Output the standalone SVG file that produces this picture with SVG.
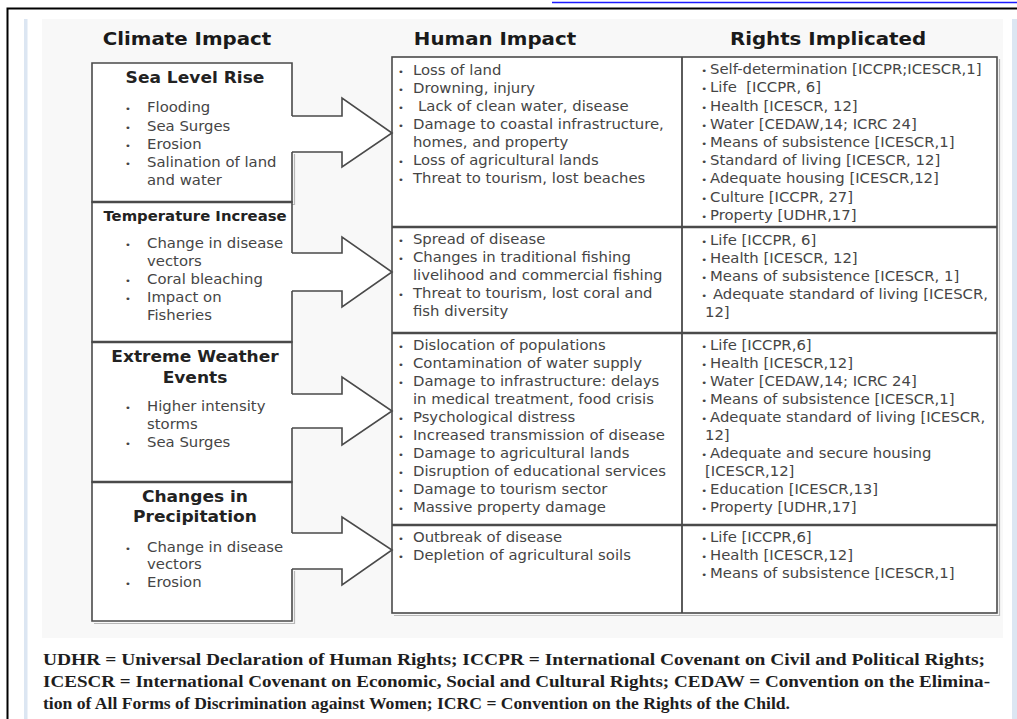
<svg xmlns="http://www.w3.org/2000/svg" width="1017" height="719" viewBox="0 0 1017 719">
<style>
.hdr{font-family:"DejaVu Sans",Verdana,sans-serif;font-weight:bold;font-size:18px;fill:#1a1a1a;text-anchor:middle}
.ttl{font-family:"DejaVu Sans",Verdana,sans-serif;font-weight:bold;font-size:15.5px;fill:#222;text-anchor:middle}
.ttl2{font-size:13.5px}
.tx{font-family:"DejaVu Sans",Verdana,sans-serif;font-size:13.5px;fill:#454545}
.b{font-size:9px}
.fn{font-family:"Liberation Serif","Times New Roman",serif;font-weight:bold;font-size:17px;fill:#1e1e1e}
.box{fill:#fff;stroke:#4a4a4a;stroke-width:1.6}
.div{stroke:#4a4a4a;stroke-width:2.6;fill:none}
.arrow{fill:#fff;stroke:#4a4a4a;stroke-width:1.6;stroke-linejoin:miter}
.tbl{fill:#fff;stroke:#4a4a4a;stroke-width:1.6}
.shadow{fill:none;stroke:#b8b8b8;stroke-width:1.2}
</style>
<rect width="1017" height="719" fill="#fff"/>
<!-- page frame -->
<line x1="552" y1="2.5" x2="1017" y2="2.5" stroke="#1a1aff" stroke-width="1.5"/>
<path d="M7.5,719 V8.5 H1017" fill="none" stroke="#000" stroke-width="2"/>
<rect x="24" y="19" width="3.5" height="700" fill="#dce6f2"/>
<rect x="1012" y="19" width="5" height="700" fill="#dce6f2"/>
<rect x="42" y="19" width="961" height="619" fill="#f8f8f8"/>

<!-- column headers -->
<g id="headers">
<text class="hdr" transform="translate(187,45) scale(1.1,1)">Climate Impact</text>
<text class="hdr" transform="translate(495,45) scale(1.1,1)">Human Impact</text>
<text class="hdr" transform="translate(828,45) scale(1.1,1)">Rights Implicated</text>
</g>

<!-- climate impact nodes -->
<g id="climate-sea-level">
<path class="shadow" d="M94,204.5 H294.5 V154"/>
<path class="box" d="M292,116 V63 H92 V202 H292 V152"/>
<g transform="translate(128,0) scale(1.1,1)">
<text class="ttl" x="60.9" y="83">Sea Level Rise</text>
<text class="tx" y="112"><tspan class="b" x="-2.7">•</tspan><tspan x="17.3">Flooding</tspan></text>
<text class="tx" y="131"><tspan class="b" x="-2.7">•</tspan><tspan x="17.3">Sea Surges</tspan></text>
<text class="tx" y="149"><tspan class="b" x="-2.7">•</tspan><tspan x="17.3">Erosion</tspan></text>
<text class="tx" y="167"><tspan class="b" x="-2.7">•</tspan><tspan x="17.3">Salination of land</tspan></text>
<text class="tx" x="17.3" y="185">and water</text>
</g>
</g>

<g id="climate-temperature">
<path class="box" d="M292,253 V202 H92 V342 H292 V291"/>
<line class="div" x1="92" y1="202" x2="292" y2="202"/>
<g transform="translate(128,0) scale(1.1,1)">
<text class="ttl ttl2" x="60.9" y="221">Temperature Increase</text>
<text class="tx" y="248"><tspan class="b" x="-2.7">•</tspan><tspan x="17.3">Change in disease</tspan></text>
<text class="tx" x="17.3" y="266">vectors</text>
<text class="tx" y="284"><tspan class="b" x="-2.7">•</tspan><tspan x="17.3">Coral bleaching</tspan></text>
<text class="tx" y="302"><tspan class="b" x="-2.7">•</tspan><tspan x="17.3">Impact on</tspan></text>
<text class="tx" x="17.3" y="320">Fisheries</text>
</g>
</g>

<g id="climate-extreme">
<path class="box" d="M292,394 V342 H92 V482 H292 V428"/>
<line class="div" x1="92" y1="342" x2="292" y2="342"/>
<g transform="translate(128,0) scale(1.1,1)">
<text class="ttl" x="60.9" y="362">Extreme Weather</text>
<text class="ttl" x="60.9" y="383">Events</text>
<text class="tx" y="411"><tspan class="b" x="-2.7">•</tspan><tspan x="17.3">Higher intensity</tspan></text>
<text class="tx" x="17.3" y="429">storms</text>
<text class="tx" y="447"><tspan class="b" x="-2.7">•</tspan><tspan x="17.3">Sea Surges</tspan></text>
</g>
</g>

<g id="climate-precipitation">
<path class="shadow" d="M94,623.5 H294.5 V571"/>
<path class="box" d="M292,533 V482 H92 V621 H292 V569"/>
<line class="div" x1="92" y1="482" x2="292" y2="482"/>
<g transform="translate(128,0) scale(1.1,1)">
<text class="ttl" x="60.9" y="502">Changes in</text>
<text class="ttl" x="60.9" y="522">Precipitation</text>
<text class="tx" y="552"><tspan class="b" x="-2.7">•</tspan><tspan x="17.3">Change in disease</tspan></text>
<text class="tx" x="17.3" y="569">vectors</text>
<text class="tx" y="587"><tspan class="b" x="-2.7">•</tspan><tspan x="17.3">Erosion</tspan></text>
</g>
</g>

<!-- table frame -->
<g id="table">
<path class="shadow" d="M394,615.5 H999.5 V59"/>
<rect class="tbl" x="392" y="57" width="605" height="556"/>
<line class="div" x1="682" y1="57" x2="682" y2="613" style="stroke-width:1.8"/>
<line class="div" x1="392" y1="227" x2="997" y2="227"/>
<line class="div" x1="392" y1="333" x2="997" y2="333"/>
<line class="div" x1="392" y1="525" x2="997" y2="525"/>
</g>

<!-- human impact nodes -->
<g id="human-sea-level" transform="translate(398,0) scale(1.1,1)">
<text class="tx" y="75"><tspan class="b" x="0">•</tspan><tspan x="13.6">Loss of land</tspan></text>
<text class="tx" y="93"><tspan class="b" x="0">•</tspan><tspan x="13.6">Drowning, injury</tspan></text>
<text class="tx" y="111"><tspan class="b" x="0">•</tspan><tspan x="18.2">Lack of clean water, disease</tspan></text>
<text class="tx" y="129"><tspan class="b" x="0">•</tspan><tspan x="13.6">Damage to coastal infrastructure,</tspan></text>
<text class="tx" x="13.6" y="147">homes, and property</text>
<text class="tx" y="165"><tspan class="b" x="0">•</tspan><tspan x="13.6">Loss of agricultural lands</tspan></text>
<text class="tx" y="183"><tspan class="b" x="0">•</tspan><tspan x="13.6">Threat to tourism, lost beaches</tspan></text>
</g>
<g id="human-temperature" transform="translate(398,0) scale(1.1,1)">
<text class="tx" y="244"><tspan class="b" x="0">•</tspan><tspan x="13.6">Spread of disease</tspan></text>
<text class="tx" y="262"><tspan class="b" x="0">•</tspan><tspan x="13.6">Changes in traditional fishing</tspan></text>
<text class="tx" x="13.6" y="280">livelihood and commercial fishing</text>
<text class="tx" y="298"><tspan class="b" x="0">•</tspan><tspan x="13.6">Threat to tourism, lost coral and</tspan></text>
<text class="tx" x="13.6" y="316">fish diversity</text>
</g>
<g id="human-extreme" transform="translate(398,0) scale(1.1,1)">
<text class="tx" y="350"><tspan class="b" x="0">•</tspan><tspan x="13.6">Dislocation of populations</tspan></text>
<text class="tx" y="368"><tspan class="b" x="0">•</tspan><tspan x="13.6">Contamination of water supply</tspan></text>
<text class="tx" y="386"><tspan class="b" x="0">•</tspan><tspan x="13.6">Damage to infrastructure: delays</tspan></text>
<text class="tx" x="13.6" y="404">in medical treatment, food crisis</text>
<text class="tx" y="422"><tspan class="b" x="0">•</tspan><tspan x="13.6">Psychological distress</tspan></text>
<text class="tx" y="440"><tspan class="b" x="0">•</tspan><tspan x="13.6">Increased transmission of disease</tspan></text>
<text class="tx" y="458"><tspan class="b" x="0">•</tspan><tspan x="13.6">Damage to agricultural lands</tspan></text>
<text class="tx" y="476"><tspan class="b" x="0">•</tspan><tspan x="13.6">Disruption of educational services</tspan></text>
<text class="tx" y="494"><tspan class="b" x="0">•</tspan><tspan x="13.6">Damage to tourism sector</tspan></text>
<text class="tx" y="512"><tspan class="b" x="0">•</tspan><tspan x="13.6">Massive property damage</tspan></text>
</g>
<g id="human-precipitation" transform="translate(398,0) scale(1.1,1)">
<text class="tx" y="542"><tspan class="b" x="0">•</tspan><tspan x="13.6">Outbreak of disease</tspan></text>
<text class="tx" y="560"><tspan class="b" x="0">•</tspan><tspan x="13.6">Depletion of agricultural soils</tspan></text>
</g>

<!-- rights implicated nodes -->
<g id="rights-sea-level" transform="translate(703,0) scale(1.1,1)">
<text class="tx" y="74"><tspan class="b" x="-1.5">•</tspan><tspan x="6.4">Self-determination [ICCPR;ICESCR,1]</tspan></text>
<text class="tx" y="92"><tspan class="b" x="-1.5">•</tspan><tspan x="6.4">Life&#160; [ICCPR, 6]</tspan></text>
<text class="tx" y="111"><tspan class="b" x="-1.5">•</tspan><tspan x="6.4">Health [ICESCR, 12]</tspan></text>
<text class="tx" y="129"><tspan class="b" x="-1.5">•</tspan><tspan x="6.4">Water [CEDAW,14; ICRC 24]</tspan></text>
<text class="tx" y="147"><tspan class="b" x="-1.5">•</tspan><tspan x="6.4">Means of subsistence [ICESCR,1]</tspan></text>
<text class="tx" y="165"><tspan class="b" x="-1.5">•</tspan><tspan x="6.4">Standard of living [ICESCR, 12]</tspan></text>
<text class="tx" y="183"><tspan class="b" x="-1.5">•</tspan><tspan x="6.4">Adequate housing [ICESCR,12]</tspan></text>
<text class="tx" y="202"><tspan class="b" x="-1.5">•</tspan><tspan x="6.4">Culture [ICCPR, 27]</tspan></text>
<text class="tx" y="220"><tspan class="b" x="-1.5">•</tspan><tspan x="6.4">Property [UDHR,17]</tspan></text>
</g>
<g id="rights-temperature" transform="translate(703,0) scale(1.1,1)">
<text class="tx" y="245"><tspan class="b" x="-1.5">•</tspan><tspan x="6.4">Life [ICCPR, 6]</tspan></text>
<text class="tx" y="263"><tspan class="b" x="-1.5">•</tspan><tspan x="6.4">Health [ICESCR, 12]</tspan></text>
<text class="tx" y="281"><tspan class="b" x="-1.5">•</tspan><tspan x="6.4">Means of subsistence [ICESCR, 1]</tspan></text>
<text class="tx" y="299"><tspan class="b" x="-1.5">•</tspan><tspan x="9">Adequate standard of living [ICESCR,</tspan></text>
<text class="tx" x="1.8" y="317">12]</text>
</g>
<g id="rights-extreme" transform="translate(703,0) scale(1.1,1)">
<text class="tx" y="350"><tspan class="b" x="-1.5">•</tspan><tspan x="6.4">Life [ICCPR,6]</tspan></text>
<text class="tx" y="368"><tspan class="b" x="-1.5">•</tspan><tspan x="6.4">Health [ICESCR,12]</tspan></text>
<text class="tx" y="386"><tspan class="b" x="-1.5">•</tspan><tspan x="6.4">Water [CEDAW,14; ICRC 24]</tspan></text>
<text class="tx" y="404"><tspan class="b" x="-1.5">•</tspan><tspan x="6.4">Means of subsistence [ICESCR,1]</tspan></text>
<text class="tx" y="422"><tspan class="b" x="-1.5">•</tspan><tspan x="6.4">Adequate standard of living [ICESCR,</tspan></text>
<text class="tx" x="1.8" y="440">12]</text>
<text class="tx" y="458"><tspan class="b" x="-1.5">•</tspan><tspan x="6.4">Adequate and secure housing</tspan></text>
<text class="tx" x="1.8" y="476">[ICESCR,12]</text>
<text class="tx" y="494"><tspan class="b" x="-1.5">•</tspan><tspan x="6.4">Education [ICESCR,13]</tspan></text>
<text class="tx" y="512"><tspan class="b" x="-1.5">•</tspan><tspan x="6.4">Property [UDHR,17]</tspan></text>
</g>
<g id="rights-precipitation" transform="translate(703,0) scale(1.1,1)">
<text class="tx" y="542"><tspan class="b" x="-1.5">•</tspan><tspan x="6.4">Life [ICCPR,6]</tspan></text>
<text class="tx" y="560"><tspan class="b" x="-1.5">•</tspan><tspan x="6.4">Health [ICESCR,12]</tspan></text>
<text class="tx" y="578"><tspan class="b" x="-1.5">•</tspan><tspan x="6.4">Means of subsistence [ICESCR,1]</tspan></text>
</g>

<!-- connectors: block arrows -->
<g id="connectors">
<path class="arrow" d="M292,116 H342 V98 L392,133 L342,167 V152 H292"/>
<path class="arrow" d="M292,253 H342 V237 L392,272 L342,307 V291 H292"/>
<path class="arrow" d="M292,394 H342 V377 L392,411 L342,445 V428 H292"/>
<path class="arrow" d="M292,533 H342 V517 L392,550 L342,585 V569 H292"/>
</g>

<!-- footnote -->
<g id="footnote">
<text class="fn" x="43" y="665" textLength="942" lengthAdjust="spacingAndGlyphs">UDHR = Universal Declaration of Human Rights; ICCPR = International Covenant on Civil and Political Rights;</text>
<text class="fn" x="43" y="687" textLength="947" lengthAdjust="spacingAndGlyphs">ICESCR = International Covenant on Economic, Social and Cultural Rights; CEDAW = Convention on the Elimina-</text>
<text class="fn" x="43" y="709" textLength="747" lengthAdjust="spacingAndGlyphs">tion of All Forms of Discrimination against Women; ICRC = Convention on the Rights of the Child.</text>
</g>
</svg>
